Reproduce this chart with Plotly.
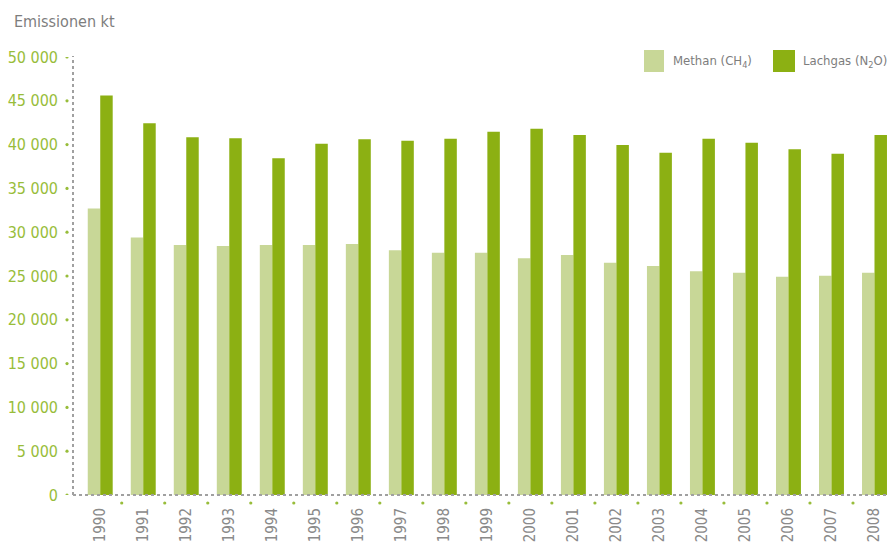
import plotly.graph_objects as go

years = ["1990", "1991", "1992", "1993", "1994", "1995", "1996", "1997", "1998", "1999",
         "2000", "2001", "2002", "2003", "2004", "2005", "2006", "2007", "2008"]
methan = [32700, 29400, 28550, 28420, 28550, 28550, 28650, 27930, 27660, 27660,
          27020, 27400, 26520, 26140, 25540, 25380, 24920, 25030, 25380]
lachgas = [45600, 42450, 40830, 40720, 38430, 40100, 40600, 40450, 40670, 41470,
           41820, 41100, 39950, 39080, 40670, 40220, 39460, 38960, 41100]
ytick_vals = [0, 5000, 10000, 15000, 20000, 25000, 30000, 35000, 40000, 45000, 50000]
ytick_text = ["0", "5 000", "10 000", "15 000", "20 000", "25 000", "30 000",
              "35 000", "40 000", "45 000", "50 000"]
series_names = ["Methan (CH<sub>4</sub>)", "Lachgas (N<sub>2</sub>O)"]

C_METH = "#c8d797"
C_LACH = "#8cb013"
C_TICK = "#98bd3a"
C_GRAY = "#7d7d7d"
FONT = "Liberation Sans Narrow, DejaVu Sans Condensed, Arial Narrow, sans-serif"

W, H = 888, 542
L, R, T, B = 73, 0, 57, 47
PW, PH = W - L - R, H - T - B


def px(xp):
    return (xp - L) / PW


def py(yp):
    return (H - B - yp) / PH


xs = list(range(len(years)))
fig = go.Figure()
fig.add_trace(go.Bar(x=xs, y=methan, name=series_names[0], marker_color=C_METH,
                     marker_line_width=0, showlegend=False))
fig.add_trace(go.Bar(x=xs, y=lachgas, name=series_names[1], marker_color=C_LACH,
                     marker_line_width=0, showlegend=False))

shapes = []
# dotted axes
shapes.append(dict(type="line", xref="paper", yref="paper", x0=0, x1=0, y0=0, y1=py(56),
                   line=dict(color="#a0a0a0", width=2, dash="dot")))
shapes.append(dict(type="line", xref="paper", yref="paper", x0=0, x1=1, y0=0, y1=0,
                   line=dict(color="#a0a0a0", width=2, dash="dot")))
# y tick dots
r_y = 1.6 * 50000 / PH
r_xp = 1.6 / PW
for v in ytick_vals:
    shapes.append(dict(type="circle", xref="paper", yref="y",
                       x0=px(67) - r_xp, x1=px(67) + r_xp, y0=v - r_y, y1=v + r_y,
                       fillcolor=C_TICK, line_width=0))
# x boundary dots
r_x = 1.6 / 43.0
r_yp = 1.6 / PH
for k in range(len(years) - 1):
    shapes.append(dict(type="circle", xref="x", yref="paper",
                       x0=k + 0.5 - r_x, x1=k + 0.5 + r_x,
                       y0=py(503) - r_yp, y1=py(503) + r_yp,
                       fillcolor=C_TICK, line_width=0))
# legend squares
shapes.append(dict(type="rect", xref="paper", yref="paper", x0=px(644), x1=px(664),
                   y0=py(72), y1=py(50), fillcolor=C_METH, line_width=0))
shapes.append(dict(type="rect", xref="paper", yref="paper", x0=px(773), x1=px(795),
                   y0=py(72), y1=py(50), fillcolor=C_LACH, line_width=0))

annotations = [
    dict(text=series_names[0], xref="paper", yref="paper", x=px(671), y=py(61),
         xanchor="left", yanchor="middle", showarrow=False,
         font=dict(family=FONT, size=13, color=C_GRAY)),
    dict(text=series_names[1], xref="paper", yref="paper", x=px(801), y=py(61),
         xanchor="left", yanchor="middle", showarrow=False,
         font=dict(family=FONT, size=13, color=C_GRAY)),
]

fig.update_layout(
    width=W, height=H,
    margin=dict(l=L, r=R, t=T, b=B, pad=0),
    paper_bgcolor="white", plot_bgcolor="white",
    barmode="group", bargap=0.42, bargroupgap=0,
    title=dict(text="Emissionen kt", x=14 / W, xanchor="left", xref="container",
               y=1 - 21 / H, yanchor="middle", yref="container",
               font=dict(family=FONT, size=16, color=C_GRAY)),
    shapes=shapes, annotations=annotations,
    xaxis=dict(tickmode="array", tickvals=xs, ticktext=years, tickangle=-90,
               range=[-0.633, 18.314], showgrid=False, zeroline=False, showline=False,
               ticks="", tickfont=dict(family=FONT, size=15, color="#8a8a8a"),
               ticklabelstandoff=9),
    yaxis=dict(tickmode="array", tickvals=ytick_vals, ticktext=ytick_text,
               range=[0, 50000], showgrid=False, zeroline=False, showline=False,
               ticks="", tickfont=dict(family=FONT, size=16, color=C_TICK),
               ticklabelstandoff=14),
)

fig.write_html("out.html", config={"displayModeBar": False},
               post_script="document.body.style.margin='0';document.body.style.overflow='hidden';")
